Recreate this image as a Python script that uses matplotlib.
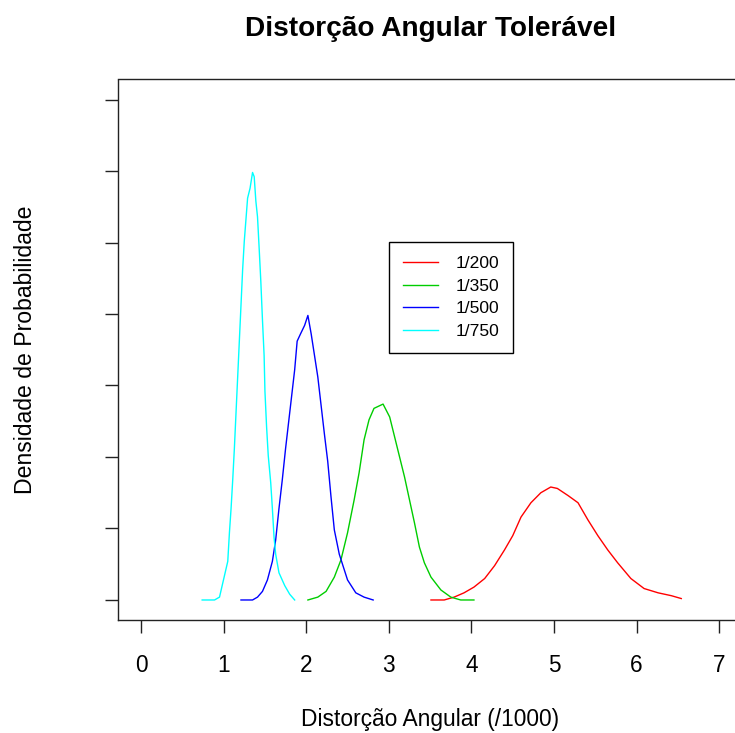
import matplotlib.pyplot as plt

plt.rcParams['font.family'] = ['Liberation Sans', 'DejaVu Sans']

# Curves (x in /1000, y = density)
x_200 = [3.51, 3.67, 3.79, 3.91, 4.03, 4.16, 4.28, 4.40, 4.50, 4.60, 4.72, 4.84,
         4.96, 5.04, 5.17, 5.29, 5.41, 5.53, 5.65, 5.77, 5.93, 6.09, 6.26, 6.42, 6.54]
y_200 = [0.00, 0.00, 0.02, 0.05, 0.09, 0.15, 0.24, 0.35, 0.45, 0.58, 0.68, 0.75,
         0.79, 0.78, 0.73, 0.68, 0.56, 0.45, 0.35, 0.26, 0.15, 0.08, 0.05, 0.03, 0.01]

x_350 = [2.02, 2.14, 2.24, 2.34, 2.42, 2.50, 2.58, 2.64, 2.70, 2.76, 2.82, 2.93,
         3.01, 3.07, 3.13, 3.19, 3.25, 3.31, 3.37, 3.43, 3.51, 3.63, 3.75, 3.87, 4.03]
y_350 = [0.00, 0.02, 0.06, 0.16, 0.28, 0.47, 0.70, 0.89, 1.12, 1.26, 1.34, 1.37,
         1.28, 1.14, 1.00, 0.86, 0.70, 0.54, 0.37, 0.26, 0.16, 0.07, 0.02, 0.00, 0.00]

x_500 = [1.21, 1.35, 1.41, 1.47, 1.53, 1.59, 1.63, 1.67, 1.71, 1.75, 1.79, 1.83,
         1.86, 1.89, 1.93, 1.98, 2.02, 2.06, 2.10, 2.14, 2.18, 2.22, 2.26, 2.30,
         2.34, 2.40, 2.50, 2.60, 2.70, 2.81]
y_500 = [0.00, 0.00, 0.02, 0.06, 0.14, 0.27, 0.42, 0.64, 0.84, 1.06, 1.26, 1.46,
         1.61, 1.81, 1.86, 1.92, 1.99, 1.86, 1.71, 1.56, 1.36, 1.16, 0.97, 0.72,
         0.49, 0.32, 0.14, 0.05, 0.02, 0.00]

x_750 = [0.74, 0.89, 0.95, 1.01, 1.05, 1.07, 1.09, 1.11, 1.13, 1.15, 1.17, 1.19,
         1.21, 1.23, 1.25, 1.27, 1.29, 1.32, 1.35, 1.37, 1.39, 1.41, 1.43, 1.45,
         1.47, 1.49, 1.50, 1.52, 1.54, 1.57, 1.59, 1.61, 1.63, 1.67, 1.74, 1.80, 1.86]
y_750 = [0.00, 0.00, 0.02, 0.17, 0.27, 0.47, 0.64, 0.84, 1.06, 1.31, 1.56, 1.81,
         2.06, 2.31, 2.51, 2.66, 2.81, 2.88, 2.99, 2.96, 2.79, 2.68, 2.46, 2.23,
         1.96, 1.71, 1.46, 1.21, 1.01, 0.82, 0.64, 0.44, 0.32, 0.19, 0.10, 0.04, 0.00]

labels = ['1/200', '1/350', '1/500', '1/750']
colors = ['#FF0000', '#00CD00', '#0000FF', '#00FFFF']

x_ticks = [0, 1, 2, 3, 4, 5, 6, 7]
y_ticks = [0, 0.5, 1.0, 1.5, 2.0, 2.5, 3.0, 3.5]

fig = plt.figure(figsize=(7.35, 7.33), dpi=100)
ax = fig.add_axes([117.9 / 735, (733 - 620) / 733, 624.5 / 735, 540.5 / 733])

series = [(x_200, y_200), (x_350, y_350), (x_500, y_500), (x_750, y_750)]
for (xs, ys), lab, col in zip(series, labels, colors):
    ax.plot(xs, ys, color=col, lw=1.0, label=lab)

ax.set_xlim(-0.28, 7.28)
ax.set_ylim(-0.14, 3.64)
ax.set_xticks(x_ticks)
ax.set_yticks(y_ticks)
ax.set_yticklabels([])
ax.tick_params(axis='both', direction='out', length=9.6, width=1.0,
               labelsize=16.3, color='#222222')
ax.tick_params(axis='x', pad=15)
for sp in ax.spines.values():
    sp.set_color('#222222')
    sp.set_linewidth(1.0)

ax.set_title('Distorção Angular Tolerável', fontsize=20.2, fontweight='bold', pad=31)
ax.set_xlabel('Distorção Angular (/1000)', fontsize=16.4)
ax.xaxis.set_label_coords(0.5, -0.163)
ax.set_ylabel('Densidade de Probabilidade', fontsize=16.6)
ax.yaxis.set_label_coords(-0.13, 0.5)

leg = ax.legend(loc='upper left', bbox_to_anchor=(0.434, 0.6994), borderaxespad=0,
                fontsize=12.6, frameon=True, fancybox=False, framealpha=1,
                edgecolor='black', handlelength=2.0, handletextpad=1.0,
                labelspacing=0.42, borderpad=0.8)
leg.get_frame().set_linewidth(1.0)

fig.savefig('out.png', dpi=100)
